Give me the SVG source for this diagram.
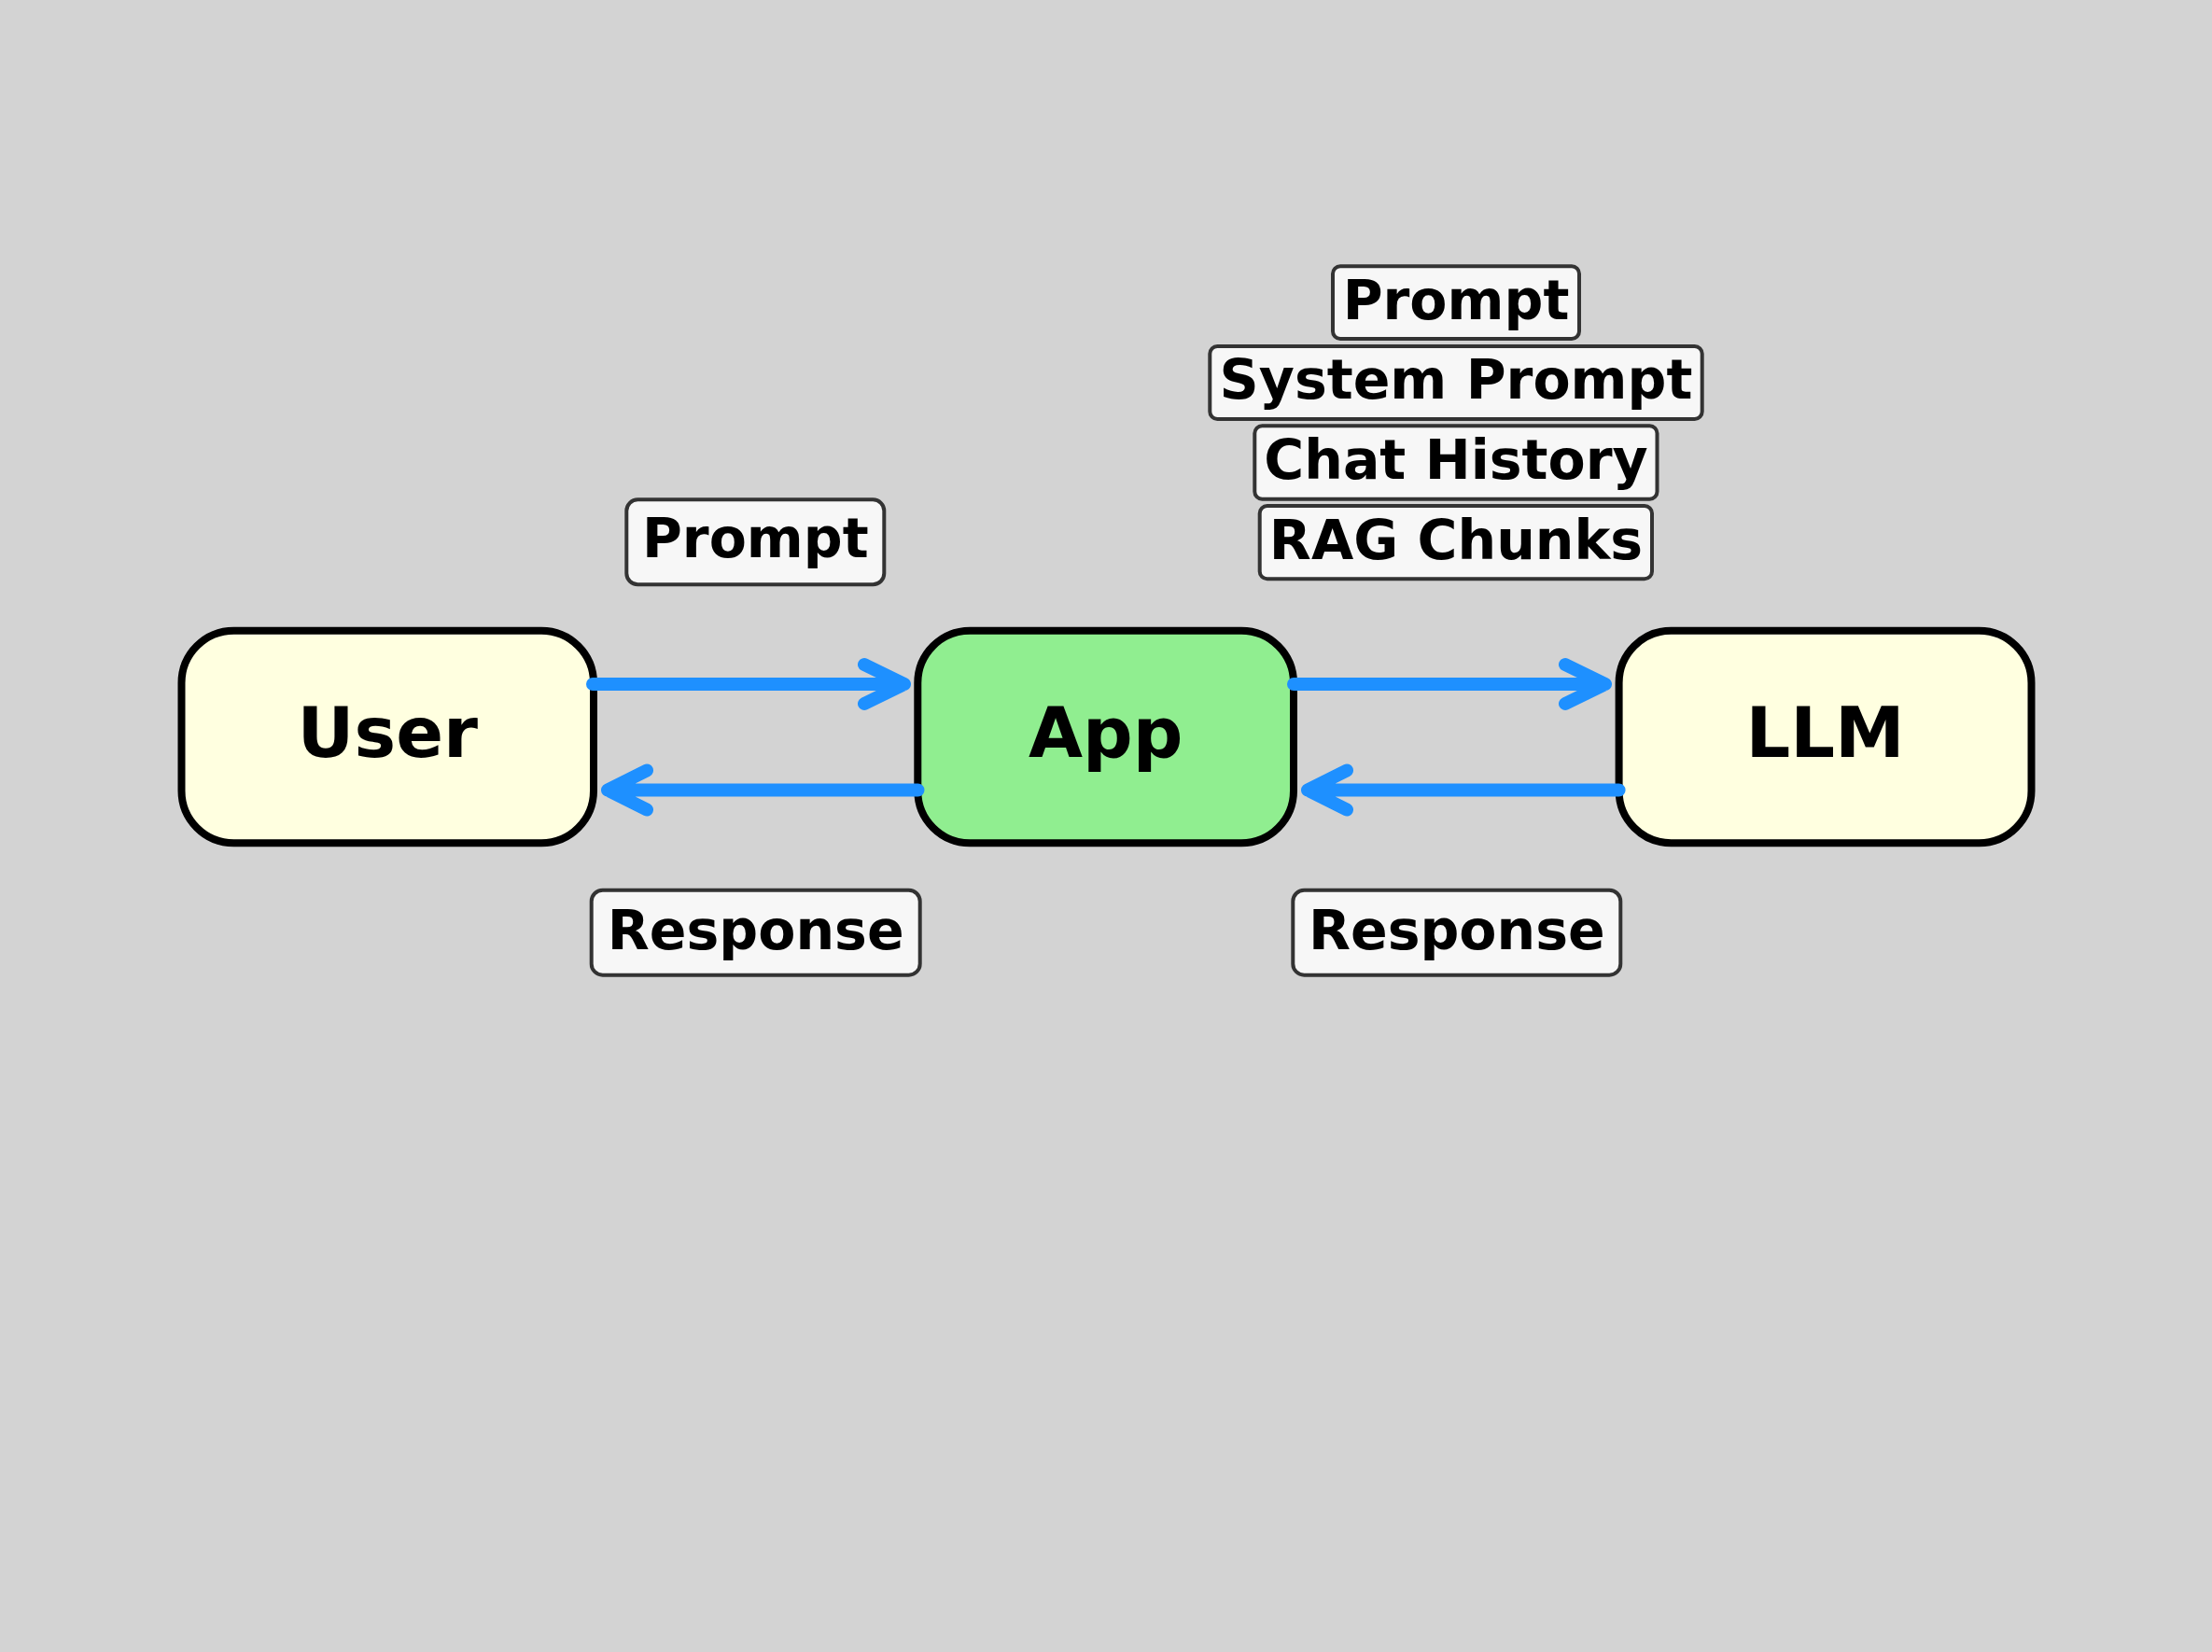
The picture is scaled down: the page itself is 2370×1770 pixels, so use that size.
<svg xmlns="http://www.w3.org/2000/svg" width="2370" height="1770" viewBox="0 0 2370 1770">
<style>
.node{stroke:#000;stroke-width:8}
.ntext{font-family:"DejaVu Sans",sans-serif;font-weight:bold;font-size:75px;text-anchor:middle;fill:#000}
.lbl{fill:#f7f7f7;stroke:#333;stroke-width:4}
.ltext{font-family:"DejaVu Sans",sans-serif;font-weight:bold;font-size:58.5px;text-anchor:middle;fill:#000}
.conn{stroke:#1e90ff;stroke-width:14;stroke-linecap:round;stroke-linejoin:round;fill:none}
</style>
<rect x="0" y="0" width="2370" height="1770" fill="#d3d3d3"/>
<g id="user">
<rect class="node" x="194.5" y="675.7" width="441.5" height="227.6" rx="56" fill="#ffffe0"/>
<text class="ntext" x="415.3" y="810.5">User</text>
</g>
<g id="app">
<rect class="node" x="983.3" y="675.7" width="402.7" height="227.6" rx="56" fill="#90ee90"/>
<text class="ntext" x="1184.7" y="810.5">App</text>
</g>
<g id="llm">
<rect class="node" x="1734.6" y="675.7" width="441.9" height="227.6" rx="56" fill="#ffffe0"/>
<text class="ntext" x="1955.5" y="810.5">LLM</text>
</g>
<g id="connectors">
<path class="conn" d="M635,733 H969 M926,712 L969,733 L926,754"/>
<path class="conn" d="M983.5,846.5 H651 M693,825.5 L651,846.5 L693,867.5"/>
<path class="conn" d="M1386,733 H1720 M1677,712 L1720,733 L1677,754"/>
<path class="conn" d="M1734.6,846.5 H1401 M1443,825.5 L1401,846.5 L1443,867.5"/>
</g>
<g id="label-prompt-left">
<rect class="lbl" x="671.3" y="535.3" width="276" height="91" rx="12"/>
<text class="ltext" x="809.3" y="597">Prompt</text>
</g>
<g id="label-response-left">
<rect class="lbl" x="633.7" y="953.7" width="352" height="91" rx="12"/>
<text class="ltext" x="809.7" y="1016.5">Response</text>
</g>
<g id="label-response-right">
<rect class="lbl" x="1385.3" y="953.7" width="351" height="91" rx="12"/>
<text class="ltext" x="1560.8" y="1016.5">Response</text>
</g>
<g id="label-prompt-right">
<rect class="lbl" x="1428" y="285.3" width="264" height="77.7" rx="8"/>
<text class="ltext" x="1560" y="341.7">Prompt</text>
</g>
<g id="label-system-prompt">
<rect class="lbl" x="1296.3" y="371" width="527.4" height="78" rx="8"/>
<text class="ltext" x="1560" y="427">System Prompt</text>
</g>
<g id="label-chat-history">
<rect class="lbl" x="1344.3" y="456.3" width="431.2" height="78.4" rx="8"/>
<text class="ltext" x="1560" y="513">Chat History</text>
</g>
<g id="label-rag-chunks">
<rect class="lbl" x="1349.7" y="542" width="420.3" height="78.3" rx="8"/>
<text class="ltext" x="1560" y="598.5">RAG Chunks</text>
</g>
</svg>
